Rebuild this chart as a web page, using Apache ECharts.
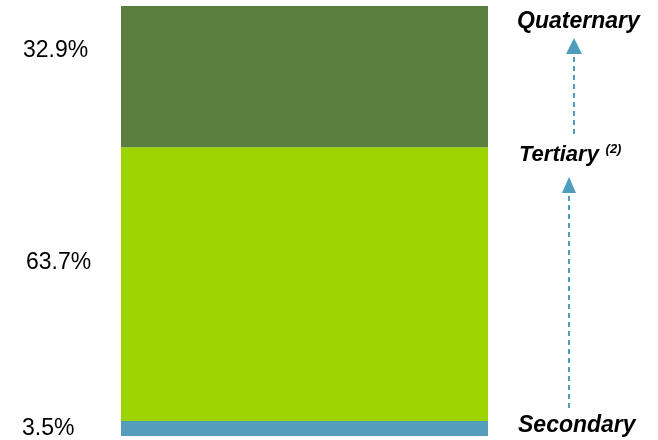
<!DOCTYPE html>
<html>
<head>
<meta charset="utf-8">
<script src="https://cdn.jsdelivr.net/npm/echarts@6/dist/echarts.min.js"></script>
<style>html,body{margin:0;padding:0;background:#fff}#c{width:658px;height:440px}</style>
</head>
<body>
<div id="c"></div>
<script>
var categories = ['Total'];
var secondary = [3.5];
var tertiary = [63.7];
var quaternary = [32.9];
var segmentNames = ['Secondary', 'Tertiary', 'Quaternary'];

var chart = echarts.init(document.getElementById('c'));
var labelFont = { fontFamily: 'Liberation Sans, Arial, sans-serif', fontSize: 23, color: '#000' };
function lbl(pos) {
  return Object.assign({ show: true, position: pos, align: 'left', verticalAlign: 'middle',
    formatter: function (p) { return p.value.toFixed(1) + '%'; } }, labelFont);
}
var annFont = 'Liberation Sans, Arial, sans-serif';
var arrowColor = '#4F9DBE';
chart.setOption({
  animation: false,
  grid: { left: 121, right: 170, top: 6, bottom: 4 },
  xAxis: { type: 'category', data: categories, show: false },
  yAxis: { type: 'value', min: 0, max: 100.1, show: false },
  series: [
    { name: segmentNames[0], type: 'bar', stack: 's', data: secondary, barWidth: '100%',
      itemStyle: { color: '#549EBB' }, label: lbl([-99, 8]) },
    { name: segmentNames[1], type: 'bar', stack: 's', data: tertiary, barWidth: '100%',
      itemStyle: { color: '#9DD300' }, label: lbl([-95, 115]) },
    { name: segmentNames[2], type: 'bar', stack: 's', data: quaternary, barWidth: '100%',
      itemStyle: { color: '#5A7E3D' }, label: lbl([-98, 45]) }
  ],
  graphic: [
    { type: 'text', left: 517, top: 10, style: { text: 'Quaternary', font: 'italic bold 23px ' + annFont, fill: '#000' } },
    { type: 'text', left: 519, top: 143, style: {
        text: '{a|Tertiary}  {b|(2)}',
        rich: { a: { font: 'italic bold 22px ' + annFont, fill: '#000', verticalAlign: 'bottom' },
                b: { font: 'italic bold 13px ' + annFont, fill: '#000', verticalAlign: 'top', padding: [0,0,10,0] } } } },
    { type: 'text', left: 518, top: 414, style: { text: 'Secondary', font: 'italic bold 23px ' + annFont, fill: '#000' } },
    { type: 'line', shape: { x1: 574, y1: 57, x2: 574, y2: 138 }, style: { stroke: arrowColor, lineWidth: 2, lineDash: [5, 4] } },
    { type: 'polygon', shape: { points: [[574, 38], [566, 54], [582, 54]] }, style: { fill: arrowColor } },
    { type: 'line', shape: { x1: 569, y1: 196, x2: 569, y2: 410 }, style: { stroke: arrowColor, lineWidth: 2, lineDash: [5, 4] } },
    { type: 'polygon', shape: { points: [[569, 177], [562, 193], [576, 193]] }, style: { fill: arrowColor } }
  ]
});
</script>
</body>
</html>
